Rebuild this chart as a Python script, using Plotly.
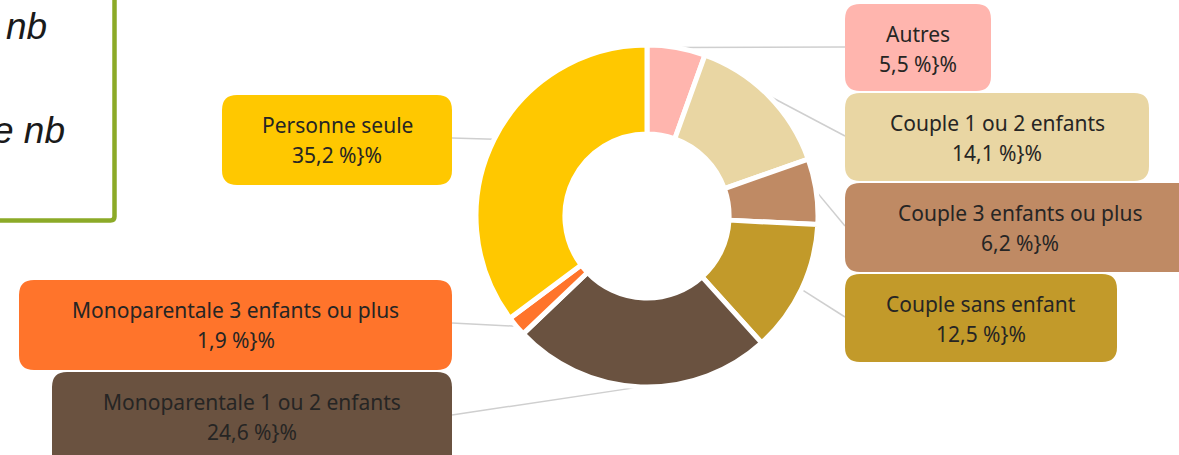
import math
import plotly.graph_objects as go

# Household types and their share (%)
categories = [
    "Autres",
    "Couple 1 ou 2 enfants",
    "Couple 3 enfants ou plus",
    "Couple sans enfant",
    "Monoparentale 1 ou 2 enfants",
    "Monoparentale 3 enfants ou plus",
    "Personne seule",
]
shares = [5.5, 14.1, 6.2, 12.5, 24.6, 1.9, 35.2]
colors = ["#FFB5AE", "#E9D6A3", "#BF8A64", "#C29A2A", "#6A5240", "#FF742B", "#FFC800"]

W, H = 1179, 455
CX, CY, R = 647, 216, 171      # donut centre and outer radius (px)
HOLE = 0.48

# Label boxes (px): left, top, right, bottom
boxes = [
    (845, 4, 991, 91),
    (845, 93, 1149, 181),
    (845, 183, 1195, 272),
    (845, 274, 1117, 362),
    (52, 372, 452, 470),
    (19, 280, 452, 370),
    (222, 95, 452, 185),
]


def px(x):
    return x / W


def py(y):
    return 1 - y / H


def rounded_rect(x0, y0, x1, y1, r):
    pts = [
        f"M {px(x0 + r)} {py(y0)}",
        f"L {px(x1 - r)} {py(y0)}",
        f"Q {px(x1)} {py(y0)} {px(x1)} {py(y0 + r)}",
        f"L {px(x1)} {py(y1 - r)}",
        f"Q {px(x1)} {py(y1)} {px(x1 - r)} {py(y1)}",
        f"L {px(x0 + r)} {py(y1)}",
        f"Q {px(x0)} {py(y1)} {px(x0)} {py(y1 - r)}",
        f"L {px(x0)} {py(y0 + r)}",
        f"Q {px(x0)} {py(y0)} {px(x0 + r)} {py(y0)}",
        "Z",
    ]
    return " ".join(pts)


fig = go.Figure(
    go.Pie(
        labels=categories,
        values=shares,
        sort=False,
        direction="clockwise",
        rotation=0,
        hole=HOLE,
        textinfo="none",
        marker=dict(colors=colors, line=dict(color="white", width=5)),
        domain=dict(x=[px(CX - R), px(CX + R)], y=[py(CY + R), py(CY - R)]),
        showlegend=False,
    )
)

label_font = dict(family="Noto Sans", size=21, color="#262524")

shapes = []
annotations = []
total = sum(shares)
cum = 0.0
for name, v, col, (x0, y0, x1, y1) in zip(categories, shares, colors, boxes):
    mid = (cum + v / 2) / total * 2 * math.pi
    cum += v
    sx = CX + R * math.sin(mid)
    sy = CY - R * math.cos(mid)
    ey = y0 + 43
    ex = x0 if sx > CX else x1
    # leader line from slice to its label box
    shapes.append(dict(
        type="line", xref="paper", yref="paper", layer="below",
        x0=px(sx), y0=py(sy), x1=px(ex), y1=py(ey),
        line=dict(color="#CFCFCF", width=1.5),
    ))
    shapes.append(dict(
        type="path", xref="paper", yref="paper", layer="below",
        path=rounded_rect(x0, y0, x1, y1, 15),
        fillcolor=col, line=dict(width=0),
    ))
    tx = (x0 + min(x1, W + 16)) / 2
    value_text = f"{v:.1f}".replace(".", ",") + " %}%"
    for line_text, dy in ((name, 30), (value_text, 60)):
        annotations.append(dict(
            xref="paper", yref="paper", x=px(tx), y=py(y0 + dy),
            xanchor="center", yanchor="middle", showarrow=False,
            text=line_text, align="center", font=label_font,
        ))

# Framed note panel in the upper-left corner
shapes.append(dict(
    type="path", xref="paper", yref="paper", layer="above",
    path=rounded_rect(-40, -40, 114.5, 220.5, 4),
    fillcolor="rgba(0,0,0,0)", line=dict(color="#8CAA27", width=4.5),
))
note_font = dict(family="Liberation Sans", size=37, color="#1A1A1A")
annotations.append(dict(
    xref="paper", yref="paper", x=px(49), y=py(26), xanchor="right", yanchor="middle",
    showarrow=False, text="<i>nb</i>", font=note_font,
))
annotations.append(dict(
    xref="paper", yref="paper", x=px(67), y=py(130), xanchor="right", yanchor="middle",
    showarrow=False, text="<i>e nb</i>", font=note_font,
))

fig.update_layout(
    width=W, height=H,
    margin=dict(l=0, r=0, t=0, b=0),
    paper_bgcolor="white", plot_bgcolor="white",
    shapes=shapes, annotations=annotations,
)

fig.write_html("out.html")
